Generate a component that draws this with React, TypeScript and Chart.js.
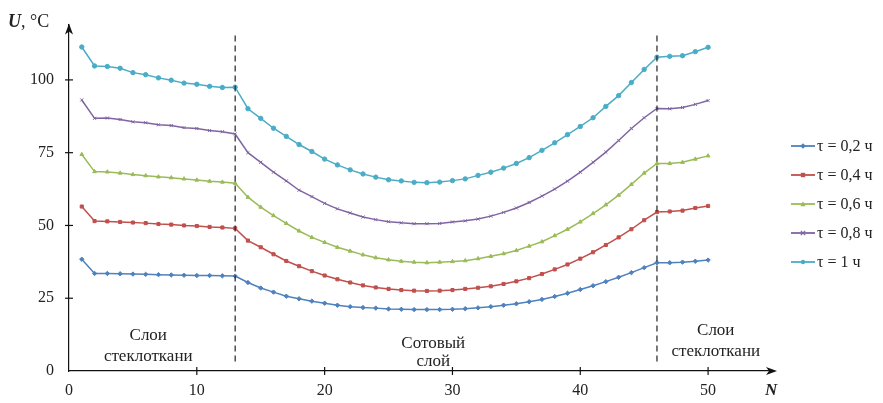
import React, { useEffect, useRef } from 'react';
import { Chart, registerables } from 'chart.js';

Chart.register(...registerables);

const N = [1, 2, 3, 4, 5, 6, 7, 8, 9, 10, 11, 12, 13, 14, 15, 16, 17, 18, 19, 20, 21, 22, 23, 24, 25,
  26, 27, 28, 29, 30, 31, 32, 33, 34, 35, 36, 37, 38, 39, 40, 41, 42, 43, 44, 45, 46, 47, 48, 49, 50];

const tau02 = [38.4, 33.5, 33.5, 33.4, 33.3, 33.2, 33.1, 33.0, 32.9, 32.8, 32.8, 32.7, 32.6,
  30.4, 28.5, 27.1, 25.7, 24.8, 24.0, 23.3, 22.6, 22.1, 21.8, 21.6, 21.3, 21.2, 21.1, 21.1, 21.1, 21.2,
  21.4, 21.7, 22.1, 22.6, 23.1, 23.8, 24.6, 25.6, 26.7, 28.0, 29.3, 30.7, 32.2, 33.8, 35.5, 37.2,
  37.2, 37.4, 37.7, 38.1];

const tau04 = [56.5, 51.5, 51.4, 51.2, 51.0, 50.8, 50.5, 50.3, 50.0, 49.8, 49.5, 49.3, 49.0,
  44.8, 42.5, 40.1, 37.8, 36.0, 34.3, 32.8, 31.5, 30.4, 29.4, 28.7, 28.2, 27.8, 27.6, 27.5, 27.6, 27.8,
  28.2, 28.6, 29.1, 29.9, 30.8, 31.9, 33.3, 34.9, 36.6, 38.6, 40.8, 43.3, 45.9, 48.7, 51.8, 54.6,
  54.8, 55.1, 56.0, 56.7];

const tau06 = [74.4, 68.5, 68.4, 68.0, 67.5, 67.1, 66.7, 66.4, 66.0, 65.6, 65.2, 64.9, 64.5,
  59.7, 56.3, 53.4, 50.7, 48.1, 45.9, 44.2, 42.5, 41.2, 39.9, 38.9, 38.2, 37.7, 37.4, 37.2, 37.4, 37.6,
  37.9, 38.6, 39.4, 40.3, 41.4, 42.9, 44.4, 46.5, 48.7, 51.2, 54.1, 57.1, 60.4, 64.1, 68.0, 71.3,
  71.3, 71.7, 72.8, 73.9];

const tau08 = [93.1, 86.8, 86.9, 86.4, 85.6, 85.3, 84.6, 84.3, 83.6, 83.3, 82.6, 82.2, 81.4,
  75.0, 71.7, 68.3, 65.3, 62.1, 59.9, 57.6, 55.7, 54.3, 52.9, 52.0, 51.3, 50.9, 50.6, 50.6, 50.7, 51.2,
  51.6, 52.2, 53.2, 54.5, 56.0, 57.9, 60.1, 62.5, 65.2, 68.3, 71.7, 75.2, 79.2, 83.3, 87.0, 90.2,
  90.1, 90.5, 91.6, 92.9];

const tau10 = [111.3, 104.8, 104.6, 104.0, 102.5, 101.8, 100.7, 99.9, 98.9, 98.5, 97.8, 97.4, 97.5,
  90.1, 86.8, 83.4, 80.6, 77.8, 75.4, 72.8, 70.8, 69.1, 67.7, 66.6, 65.7, 65.3, 64.8, 64.7, 64.9, 65.4,
  66.0, 67.2, 68.3, 69.7, 71.3, 73.3, 75.8, 78.4, 81.2, 84.0, 87.0, 90.9, 94.6, 99.1, 103.6, 107.8,
  108.1, 108.3, 109.7, 111.2];

const seriesLabels = ['τ = 0,2 ч', 'τ = 0,4 ч', 'τ = 0,6 ч', 'τ = 0,8 ч', 'τ = 1 ч'];
const seriesValues = [tau02, tau04, tau06, tau08, tau10];
const seriesColors = ['#4F81BD', '#C0504D', '#9BBB59', '#8064A2', '#4BACC6'];
const seriesMarkers = ['rectRot', 'rect', 'triangle', 'crossRot', 'circle'];

const xTicks = [0, 10, 20, 30, 40, 50];
const yTicks = [0, 25, 50, 75, 100];
const layerBounds = [13, 46];
const layerLeftText = ['Слои', 'стеклоткани'];
const layerMidText = ['Сотовый', 'слой'];
const layerRightText = ['Слои', 'стеклоткани'];
const yTitle = ['U', ', °C'];
const xTitle = 'N';

const FONT = "'Liberation Serif', 'Times New Roman', serif";

function drawMarker(ctx: CanvasRenderingContext2D, style: string, x: number, y: number, r: number, color: string) {
  ctx.save();
  ctx.fillStyle = color;
  ctx.strokeStyle = color;
  ctx.lineWidth = 1.2;
  ctx.beginPath();
  if (style === 'circle') {
    ctx.arc(x, y, r, 0, Math.PI * 2);
    ctx.fill();
  } else if (style === 'rect') {
    ctx.rect(x - r, y - r, 2 * r, 2 * r);
    ctx.fill();
  } else if (style === 'rectRot') {
    ctx.moveTo(x, y - r * 1.3);
    ctx.lineTo(x + r * 1.3, y);
    ctx.lineTo(x, y + r * 1.3);
    ctx.lineTo(x - r * 1.3, y);
    ctx.closePath();
    ctx.fill();
  } else if (style === 'triangle') {
    ctx.moveTo(x, y - r * 1.3);
    ctx.lineTo(x + r * 1.2, y + r);
    ctx.lineTo(x - r * 1.2, y + r);
    ctx.closePath();
    ctx.fill();
  } else {
    ctx.moveTo(x - r, y - r);
    ctx.lineTo(x + r, y + r);
    ctx.moveTo(x + r, y - r);
    ctx.lineTo(x - r, y + r);
    ctx.stroke();
  }
  ctx.restore();
}

const decorPlugin = {
  id: 'decor',
  afterDraw(chart: any) {
    const ctx: CanvasRenderingContext2D = chart.ctx;
    const xs = chart.scales.x;
    const ys = chart.scales.y;
    const area = chart.chartArea;
    ctx.save();

    // dashed layer boundaries
    ctx.strokeStyle = '#222';
    ctx.lineWidth = 1.2;
    ctx.setLineDash([6, 4]);
    layerBounds.forEach((b) => {
      const px = xs.getPixelForValue(b);
      ctx.beginPath();
      ctx.moveTo(px, area.top + 11);
      ctx.lineTo(px, area.bottom - 6);
      ctx.stroke();
    });
    ctx.setLineDash([]);

    // axis tick crosses
    ctx.strokeStyle = '#111';
    ctx.lineWidth = 1.2;
    xTicks.forEach((t) => {
      if (t === 0) return;
      const px = xs.getPixelForValue(t);
      ctx.beginPath();
      ctx.moveTo(px, area.bottom - 4);
      ctx.lineTo(px, area.bottom + 4);
      ctx.stroke();
    });
    yTicks.forEach((t) => {
      if (t === 0) return;
      const py = ys.getPixelForValue(t);
      ctx.beginPath();
      ctx.moveTo(area.left - 4, py);
      ctx.lineTo(area.left + 4, py);
      ctx.stroke();
    });

    // arrows
    ctx.fillStyle = '#111';
    ctx.beginPath();
    ctx.moveTo(area.left, area.top - 1);
    ctx.lineTo(area.left - 4, area.top + 10);
    ctx.lineTo(area.left, area.top + 7);
    ctx.lineTo(area.left + 4, area.top + 10);
    ctx.closePath();
    ctx.fill();
    ctx.beginPath();
    ctx.moveTo(area.right + 5, area.bottom);
    ctx.lineTo(area.right - 6, area.bottom - 4);
    ctx.lineTo(area.right - 3, area.bottom);
    ctx.lineTo(area.right - 6, area.bottom + 4);
    ctx.closePath();
    ctx.fill();

    // axis titles
    ctx.fillStyle = '#222';
    ctx.textBaseline = 'middle';
    ctx.textAlign = 'left';
    ctx.font = `italic bold 18px ${FONT}`;
    ctx.fillText(yTitle[0], 8, 22);
    const uw = ctx.measureText(yTitle[0]).width;
    ctx.font = `18px ${FONT}`;
    ctx.fillText(yTitle[1], 8 + uw, 22);
    ctx.font = `italic bold 17px ${FONT}`;
    ctx.fillText(xTitle, area.right - 7, 391);

    // layer annotations
    ctx.textAlign = 'center';
    ctx.font = `17px ${FONT}`;
    const lx = xs.getPixelForValue(6.2);
    ctx.fillText(layerLeftText[0], lx, 336);
    ctx.fillText(layerLeftText[1], lx, 357);
    const mx = xs.getPixelForValue(28.5);
    ctx.fillText(layerMidText[0], mx, 344);
    ctx.fillText(layerMidText[1], mx, 362);
    const rx = xs.getPixelForValue(50.6);
    ctx.fillText(layerRightText[0], rx, 331);
    ctx.fillText(layerRightText[1], rx, 352);

    // legend
    ctx.textAlign = 'left';
    ctx.font = `16px ${FONT}`;
    seriesLabels.forEach((lab, i) => {
      const y = 146 + i * 29;
      ctx.strokeStyle = seriesColors[i];
      ctx.lineWidth = 1.8;
      ctx.beginPath();
      ctx.moveTo(791, y);
      ctx.lineTo(815, y);
      ctx.stroke();
      drawMarker(ctx, seriesMarkers[i], 803, y, 2.2, seriesColors[i]);
      ctx.fillStyle = '#222';
      ctx.fillText(lab, 817, y + 1);
    });

    ctx.restore();
  },
};

export default function App() {
  const ref = useRef<HTMLCanvasElement>(null);

  useEffect(() => {
    if (!ref.current) return;
    const datasets = seriesValues.map((vals, i) => ({
      label: seriesLabels[i],
      data: N.map((n, j) => ({ x: n, y: vals[j] })),
      borderColor: seriesColors[i],
      backgroundColor: seriesColors[i],
      borderWidth: 1.5,
      pointStyle: seriesMarkers[i] as any,
      pointRadius: 2.2,
      pointBorderWidth: 1,
      tension: 0,
    }));
    const chart = new Chart(ref.current, {
      type: 'line',
      data: { datasets },
      options: {
        animation: false,
        responsive: false,
        devicePixelRatio: 1,
        layout: { padding: { left: 0, top: 17, right: 111, bottom: 0 } },
        plugins: { legend: { display: false }, tooltip: { enabled: false } },
        scales: {
          x: {
            type: 'linear',
            min: 0,
            max: 55,
            afterBuildTicks: (s: any) => {
              s.ticks = xTicks.map((v) => ({ value: v }));
            },
            afterFit: (s: any) => {
              s.height = 32;
            },
            grid: { display: false, drawTicks: false },
            border: { display: true, color: '#111', width: 1.2 },
            ticks: { padding: 10, color: '#222', maxRotation: 0, font: { family: FONT, size: 16 } },
          },
          y: {
            type: 'linear',
            min: 0,
            max: 119,
            afterBuildTicks: (s: any) => {
              s.ticks = yTicks.map((v) => ({ value: v }));
            },
            afterFit: (s: any) => {
              s.width = 69;
            },
            grid: { display: false, drawTicks: false },
            border: { display: true, color: '#111', width: 1.2 },
            ticks: { padding: 15, color: '#222', font: { family: FONT, size: 16 } },
          },
        },
      },
      plugins: [decorPlugin],
    });
    return () => chart.destroy();
  }, []);

  return (
    <div style={{ position: 'fixed', left: 0, top: 0, width: 883, height: 403, background: '#fff' }}>
      <canvas ref={ref} width={883} height={403} />
    </div>
  );
}
